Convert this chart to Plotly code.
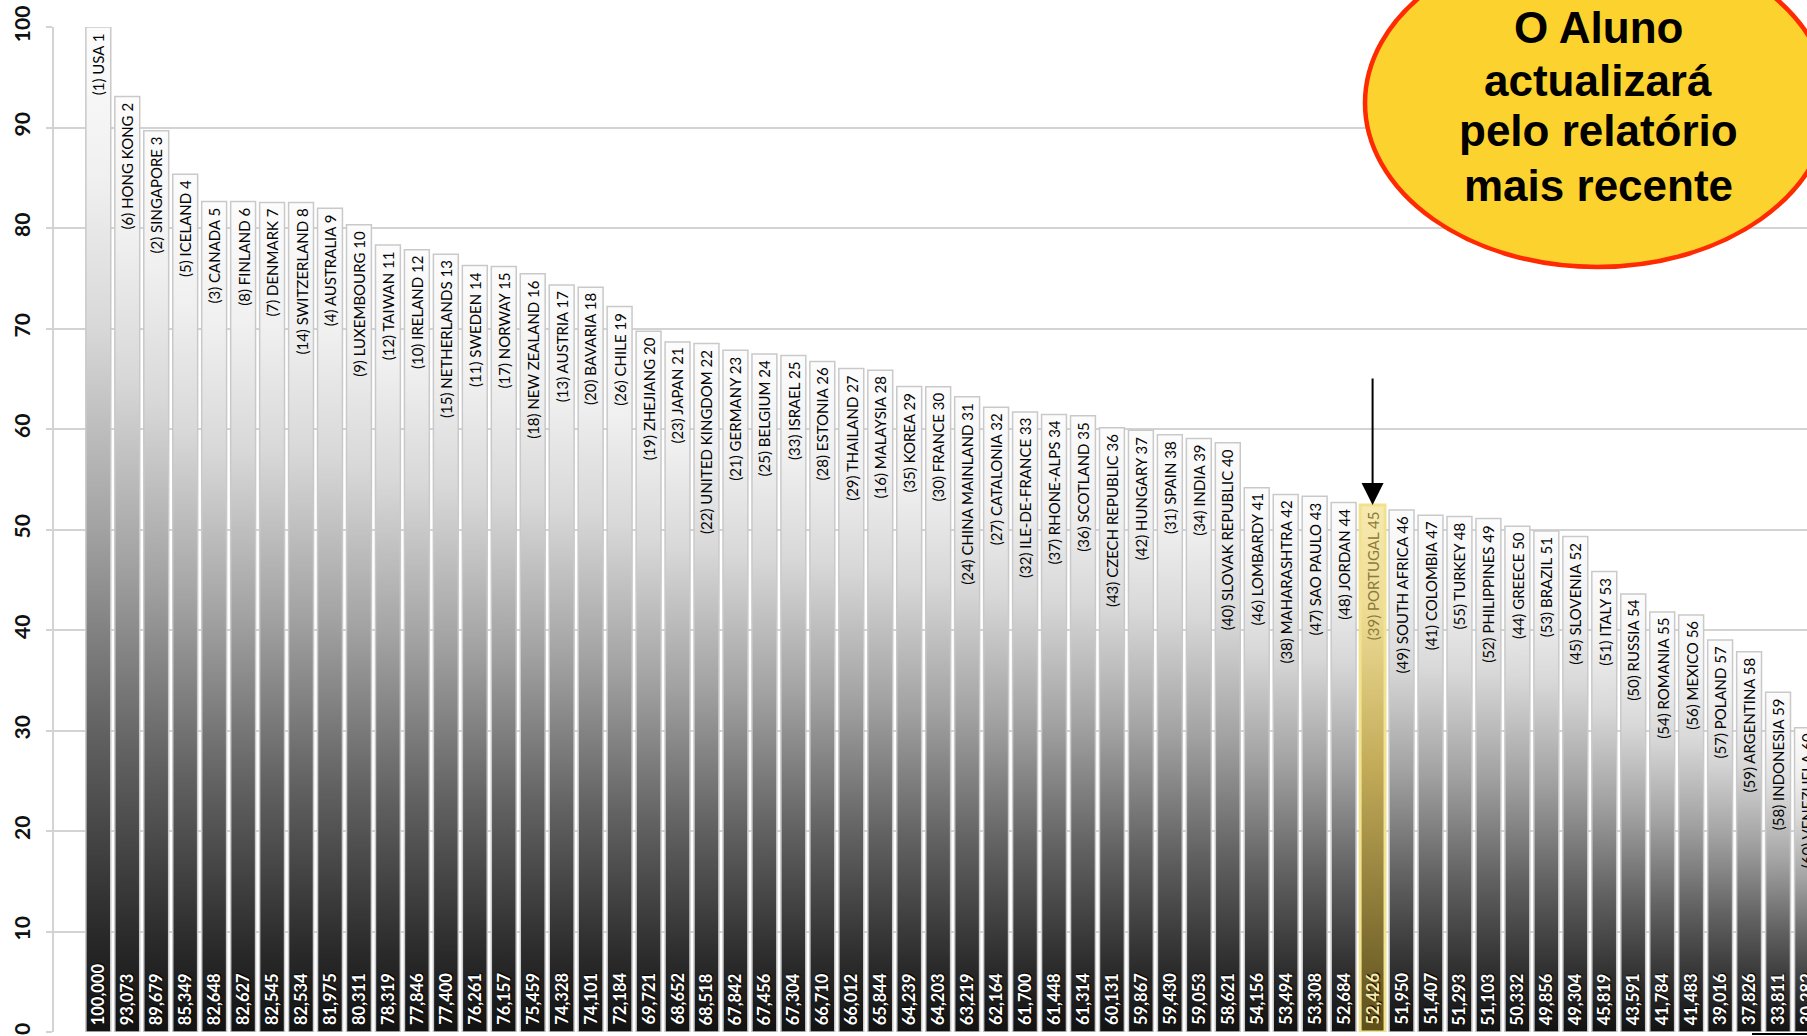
import plotly.graph_objects as go

# Ranking data: bracketed number, region name, position, score
prev_ranks = [1, 6, 2, 5, 3, 8, 7, 14, 4, 9, 12, 10, 15, 11, 17, 18, 13, 20, 26, 19,
              23, 22, 21, 25, 33, 28, 29, 16, 35, 30, 24, 27, 32, 37, 36, 43, 42, 31, 34, 40,
              46, 38, 47, 48, 39, 49, 41, 55, 52, 44, 53, 45, 51, 50, 54, 56, 57, 59, 58, 60]
names = ["USA", "HONG KONG", "SINGAPORE", "ICELAND", "CANADA", "FINLAND", "DENMARK",
         "SWITZERLAND", "AUSTRALIA", "LUXEMBOURG", "TAIWAN", "IRELAND", "NETHERLANDS",
         "SWEDEN", "NORWAY", "NEW ZEALAND", "AUSTRIA", "BAVARIA", "CHILE", "ZHEJIANG",
         "JAPAN", "UNITED KINGDOM", "GERMANY", "BELGIUM", "ISRAEL", "ESTONIA", "THAILAND",
         "MALAYSIA", "KOREA", "FRANCE", "CHINA MAINLAND", "CATALONIA", "ILE-DE-FRANCE",
         "RHONE-ALPS", "SCOTLAND", "CZECH REPUBLIC", "HUNGARY", "SPAIN", "INDIA",
         "SLOVAK REPUBLIC", "LOMBARDY", "MAHARASHTRA", "SAO PAULO", "JORDAN", "PORTUGAL",
         "SOUTH AFRICA", "COLOMBIA", "TURKEY", "PHILIPPINES", "GREECE", "BRAZIL", "SLOVENIA",
         "ITALY", "RUSSIA", "ROMANIA", "MEXICO", "POLAND", "ARGENTINA", "INDONESIA", "VENEZUELA"]
positions = list(range(1, 61))
scores = [100.000, 93.073, 89.679, 85.349, 82.648, 82.627, 82.545, 82.534, 81.975, 80.311,
          78.319, 77.846, 77.400, 76.261, 76.157, 75.459, 74.328, 74.101, 72.184, 69.721,
          68.652, 68.518, 67.842, 67.456, 67.304, 66.710, 66.012, 65.844, 64.239, 64.203,
          63.219, 62.164, 61.700, 61.448, 61.314, 60.131, 59.867, 59.430, 59.053, 58.621,
          54.156, 53.494, 53.308, 52.684, 52.426, 51.950, 51.407, 51.293, 51.103, 50.332,
          49.856, 49.304, 45.819, 43.591, 41.784, 41.483, 39.016, 37.826, 33.811, 30.282]
y_ticks = [0, 10, 20, 30, 40, 50, 60, 70, 80, 90, 100]
highlight = "PORTUGAL"
callout_lines = ["O Aluno", "actualizará", "pelo relatório", "mais recente"]

idx = list(range(len(scores)))
labels = [f"({r}) {n} {p}" for r, n, p in zip(prev_ranks, names, positions)]
value_labels = [f"{v:.3f}".replace(".", ",") for v in scores]

# Figure geometry (pixels)
W, H = 1807, 1036
ML, MR, MT, MB = 54, 0, 27, 4
PW, PH = W - ML - MR, H - MT - MB
X_RANGE = [-1.53, 59.0]
HALF = 0.43


def px_x(px):
    return (px - ML) / PW


def px_y(py):
    return (H - MB - py) / PH


grey_scale = [[0.0, "#121212"], [0.1, "#2a2a2a"], [0.3, "#626262"], [0.5, "#a2a2a2"],
              [0.7, "#d8d8d8"], [0.85, "#f0f0f0"], [1.0, "#fcfcfc"]]
gold_scale = [[0.0, "#5e4e18"], [0.15, "#7a6a2e"], [0.5, "#c2aa58"], [0.8, "#eedc96"],
              [1.0, "#f7eab0"]]

fig = go.Figure()

# Gradient-filled bars
for i, (n, v) in enumerate(zip(names, scores)):
    hot = n == highlight
    fig.add_trace(go.Scatter(
        x=[i - HALF, i - HALF, i + HALF, i + HALF, i - HALF],
        y=[0, v, v, 0, 0],
        mode="lines",
        fill="toself",
        fillgradient=dict(type="vertical", colorscale=gold_scale if hot else grey_scale,
                          start=0, stop=v),
        line=dict(color="#f2e28e" if hot else "#c9c9c9", width=3 if hot else 1.5),
        hoverinfo="skip",
        showlegend=False,
    ))

annotations = []
# Region labels hanging from the top of each bar, scores standing on the base
for i, (n, v, lab, val) in enumerate(zip(names, scores, labels, value_labels)):
    hot = n == highlight
    annotations.append(dict(
        x=i, y=v, xref="x", yref="y", xanchor="center", yanchor="top", yshift=-4,
        text=lab, textangle=-90, showarrow=False,
        font=dict(family="Lato", size=15, color="#8c7a3a" if hot else "#050505"),
    ))
    annotations.append(dict(
        x=i, y=0, xref="x", yref="y", xanchor="center", yanchor="bottom", yshift=5,
        text=val, textangle=-90, showarrow=False,
        font=dict(family="Lato", size=16.5, color="#f6e9a8" if hot else "#ffffff",
                  weight="bold", shadow="1px 1px 1px #000"),
    ))

hi = names.index(highlight)
annotations.append(dict(
    x=hi, y=scores[hi], xref="x", yref="y", ax=0, ay=-128, axref="pixel", ayref="pixel",
    showarrow=True, arrowhead=2, arrowsize=2.2, arrowwidth=2, arrowcolor="#000000", text="",
))

# Callout text, one annotation per line
for line, ypx in zip(callout_lines, [27.5, 80, 130, 186]):
    annotations.append(dict(
        x=px_x(1598), y=px_y(ypx), xref="paper", yref="paper", xanchor="center",
        yanchor="middle", showarrow=False, text=line,
        font=dict(family="Liberation Sans", size=44, color="#000000", weight="bold"),
    ))

fig.update_layout(
    width=W, height=H,
    margin=dict(l=ML, r=MR, t=MT, b=MB, pad=0),
    paper_bgcolor="white", plot_bgcolor="white",
    xaxis=dict(range=X_RANGE, showgrid=False, zeroline=False, showticklabels=False,
               ticks="", showline=False, fixedrange=True),
    yaxis=dict(range=[0, 100], tickvals=y_ticks, showgrid=True, gridcolor="#d3d3d3",
               gridwidth=1.5, zeroline=False, showline=True, linecolor="#d3d3d3",
               linewidth=1.5, ticks="outside", ticklen=6, tickcolor="#d3d3d3", tickwidth=1.5,
               tickangle=-90, ticklabelstandoff=8,
               tickfont=dict(family="Lato", size=21, color="#111111", weight="bold"),
               fixedrange=True),
    shapes=[
        # callout ellipse
        dict(type="circle", xref="paper", yref="paper",
             x0=px_x(1365), x1=px_x(1829), y0=px_y(267), y1=px_y(-61),
             fillcolor="#fcd22e", line=dict(color="#ff2a00", width=4.5), layer="above"),
        # short rule at the bottom-right corner
        dict(type="line", xref="paper", yref="paper",
             x0=px_x(1752), x1=px_x(1807), y0=px_y(1034), y1=px_y(1034),
             line=dict(color="#000000", width=2), layer="above"),
    ],
    annotations=annotations,
)

fig.write_html("out.html")
